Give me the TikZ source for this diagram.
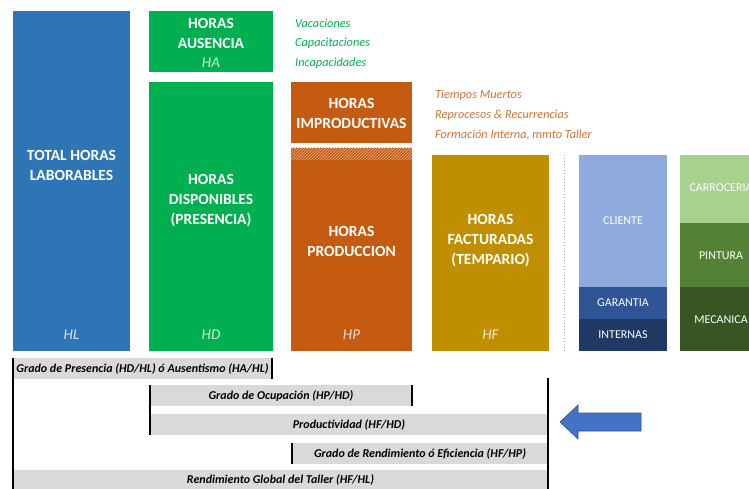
\documentclass[tikz,border=0pt]{standalone}
\usepackage{fontspec}
\setmainfont{Carlito}
\usetikzlibrary{patterns,calc}
\definecolor{cBlue}{HTML}{2E75B6}
\definecolor{cGreen}{HTML}{00B050}
\definecolor{cOrange}{HTML}{C55A11}
\definecolor{cGold}{HTML}{BF8F00}
\definecolor{cCli}{HTML}{8FAADC}
\definecolor{cGar}{HTML}{2F5597}
\definecolor{cInt}{HTML}{1F3864}
\definecolor{cCar}{HTML}{A9D18E}
\definecolor{cPin}{HTML}{548235}
\definecolor{cMec}{HTML}{375623}
\definecolor{cBar}{HTML}{D9D9D9}
\definecolor{cArrow}{HTML}{4472C4}
\definecolor{cArrowB}{HTML}{2F528F}
\tikzset{
  blk/.style={inner sep=0pt, outer sep=0pt, anchor=north west, rectangle},
  ttl/.style={text=white, align=center, font=\fontsize{15.5}{20}\selectfont\bfseries, inner sep=0pt},
  abbr/.style={font=\fontsize{15}{18}\selectfont\itshape, inner sep=0pt},
  sub/.style={text=white, font=\fontsize{12}{14}\selectfont, inner sep=0pt},
  note/.style={anchor=west, font=\fontsize{12.3}{14}\selectfont\itshape, inner sep=0pt},
  bar/.style={blk, fill=cBar, font=\fontsize{12}{13}\selectfont\bfseries\itshape},
  vline/.style={line width=2.6pt, black},
}
\begin{document}
\begin{tikzpicture}[x=1pt,y=-1pt]
\useasboundingbox (0,0) rectangle (749,489);
\clip (0,0) rectangle (749,489);
\fill[white] (0,0) rectangle (749,489);
% main boxes
\node[blk, fill=cBlue, minimum width=117pt, minimum height=340pt] (hl) at (13,11) {};
\node[blk, fill=cGreen, minimum width=124pt, minimum height=61pt] (ha) at (149,11) {};
\node[blk, fill=cGreen, minimum width=124pt, minimum height=269pt] (hd) at (149,82) {};
\node[blk, fill=cOrange, minimum width=121pt, minimum height=61pt] (hi) at (291,82) {};
\node[blk, fill=cOrange, minimum width=121pt, minimum height=203pt] (hp) at (291,148) {};
\node[blk, pattern=north east lines, pattern color=white!55!cOrange, minimum width=121pt, minimum height=12pt] (hatch) at (291,148) {};
\node[blk, fill=cGold, minimum width=117pt, minimum height=196pt] (hf) at (432,155) {};
% split columns
\node[blk, fill=cCli, minimum width=88pt, minimum height=132pt] (cli) at (579,155) {};
\node[blk, fill=cGar, minimum width=88pt, minimum height=32pt] (gar) at (579,287) {};
\node[blk, fill=cInt, minimum width=88pt, minimum height=32pt] (int) at (579,319) {};
\node[blk, fill=cCar, minimum width=82pt, minimum height=68pt] (car) at (680,155) {};
\node[blk, fill=cPin, minimum width=82pt, minimum height=64pt] (pin) at (680,223) {};
\node[blk, fill=cMec, minimum width=82pt, minimum height=64pt] (mec) at (680,287) {};
\coordinate (dt) at (564,155);
\coordinate (db) at (564,351);
\draw[gray!70, line width=1pt, dotted] (dt) -- (db);
% titles
\node[ttl] (t1) at (71.5,165) {TOTAL HORAS\\LABORABLES};
\node[ttl] (t2) at (211,33) {HORAS\\AUSENCIA};
\node[abbr, text=white!80!cGreen] (a2) at (211,63) {HA};
\node[ttl] (t3) at (211,201) {HORAS\\DISPONIBLES\\(PRESENCIA)};
\node[ttl] (t4) at (351.5,113) {HORAS\\IMPRODUCTIVAS};
\node[ttl] (t5) at (351.5,241) {HORAS\\PRODUCCION};
\node[ttl] (t6) at (490.5,241) {HORAS\\FACTURADAS\\(TEMPARIO)};
\node[abbr, text=white!80!cBlue] (a1) at (71.5,335) {HL};
\node[abbr, text=white!80!cGreen] (a3) at (211,335) {HD};
\node[abbr, text=white!80!cOrange] (a5) at (351.5,335) {HP};
\node[abbr, text=white!80!cGold] (a6) at (490.5,335) {HF};
\node[sub] (s1) at (623,221) {CLIENTE};
\node[sub] (s2) at (623,303) {GARANTIA};
\node[sub] (s3) at (623,335) {INTERNAS};
\node[sub] (s4) at (721,188) {CARROCERIA};
\node[sub] (s5) at (721,256) {PINTURA};
\node[sub] (s6) at (721,320) {MECANICA};
% notes
\node[note, text=cGreen] (n1) at (295,23) {Vacaciones};
\node[note, text=cGreen] (n2) at (295,43) {Capacitaciones};
\node[note, text=cGreen] (n3) at (295,63) {Incapacidades};
\node[note, text=cOrange!85!white] (n4) at (435,95) {Tiempos Muertos};
\node[note, text=cOrange!85!white] (n5) at (435,115) {Reprocesos \& Recurrencias};
\node[note, text=cOrange!85!white] (n6) at (435,135) {Formación Interna, mmto Taller};
% ratio bars
\node[bar, minimum width=259pt, minimum height=21pt] (b1) at (13,358) {Grado de Presencia (HD/HL) ó Ausentismo (HA/HL)};
\node[bar, minimum width=262pt, minimum height=21pt] (b2) at (150,385) {Grado de Ocupación (HP/HD)};
\node[bar, minimum width=398pt, minimum height=21pt] (b3) at (150,414) {Productividad (HF/HD)};
\node[bar, minimum width=256pt, minimum height=21pt] (b4) at (292,443) {Grado de Rendimiento ó Eficiencia (HF/HP)};
\node[bar, minimum width=535pt, minimum height=19pt] (b5) at (13,470) {Rendimiento Global del Taller (HF/HL)};
\draw[vline] (b1.north west) -- (b5.south west);
\draw[vline] (b1.north east) -- (b1.south east);
\draw[vline] (b2.north west) -- (b3.south west);
\draw[vline] (b2.north east) -- (b2.south east);
\draw[vline] (b4.north west) -- (b4.south west);
\coordinate (rt) at (548,378);
\draw[vline] (rt) -- (b5.south east);
% arrow
\filldraw[fill=cArrow, draw=cArrowB, line width=0.6pt]
  (560,422) -- (578,405) -- (578,413) -- (641,413) -- (641,431) -- (578,431) -- (578,439) -- cycle;
\end{tikzpicture}
\end{document}
